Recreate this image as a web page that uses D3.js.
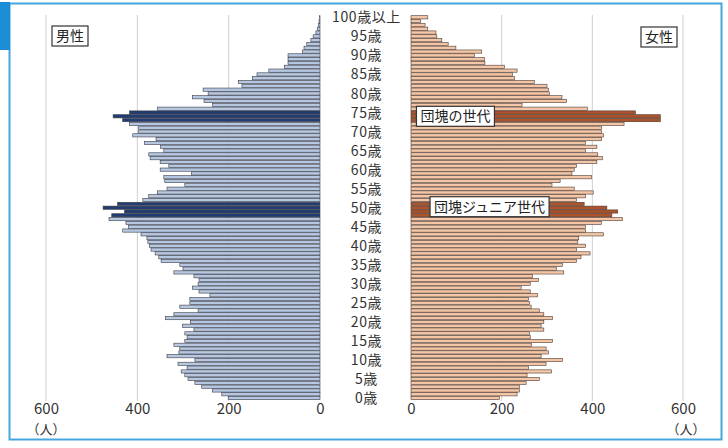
<!DOCTYPE html>
<html>
<head>
<meta charset="utf-8">
<script src="https://cdn.jsdelivr.net/npm/d3@7"></script>
<style>
  body { margin: 0; background: #fff; }
  svg { display: block; font-family: "Noto Sans CJK JP", "Noto Sans", sans-serif; }
</style>
</head>
<body>
<script>
// ages 0..100 (100 = 100歳以上)
var ages = d3.range(0, 101);

// male population by age (人), index = age
var male = [201,215,235,259,274,289,296,304,291,311,
            274,335,309,307,320,296,291,296,276,301,
            284,338,320,267,307,285,285,241,265,279,
            267,265,276,320,300,307,348,353,361,370,
            373,377,379,392,432,419,425,462,456,428,
            475,443,388,375,356,335,296,340,342,281,
            350,331,350,372,375,342,349,384,359,410,
            397,397,417,432,453,417,356,235,254,279,
            245,256,171,179,148,138,112,78,70,70,
            70,38,35,29,20,15,9,6,3,2,
            1.5];

// female population by age (人)
var female = [195,234,239,239,254,283,256,310,259,298,
              334,287,303,298,266,312,263,261,293,287,
              293,312,293,283,265,261,259,279,263,243,
              263,281,268,337,321,334,365,375,395,365,
              385,368,370,425,385,385,420,466,443,456,
              432,382,365,385,402,360,311,329,398,355,
              360,365,410,422,412,385,410,385,420,425,
              420,420,470,550,550,495,389,245,343,333,
              305,303,300,272,228,224,234,206,163,162,
              140,156,99,82,68,57,55,37,31,21,
              37];

// highlighted generations
var dankai = [73, 74, 75];
var dankaiJr = [48, 49, 50, 51];

var ticks = [0, 200, 400, 600];
var gridTicks = [200, 400, 600];
var ageLabels = d3.range(0, 100, 5);

var W = 728, H = 448;

var svg = d3.select("body").append("svg")
  .attr("width", W)
  .attr("height", H);

// frame
svg.append("rect")
  .attr("x", 9.5).attr("y", 3.5)
  .attr("width", 712).attr("height", 436)
  .attr("fill", "#fff")
  .attr("stroke", "#45a6de")
  .attr("stroke-width", 2);
svg.append("rect")
  .attr("x", 0).attr("y", 2)
  .attr("width", 10).attr("height", 48)
  .attr("fill", "#1a8dd6");

// scales
var y = d3.scaleBand()
  .domain(ages.slice().reverse())
  .range([15.4, 400])
  .padding(0);

var xl = d3.scaleLinear().domain([0, 600]).range([320, 46]);
var xr = d3.scaleLinear().domain([0, 600]).range([411, 683]);

// grid lines
svg.append("g").selectAll("line")
  .data(gridTicks)
  .enter().append("line")
  .attr("x1", function(d){ return xl(d); })
  .attr("x2", function(d){ return xl(d); })
  .attr("y1", 15).attr("y2", 401)
  .attr("stroke", "#c2c2c2")
  .attr("stroke-width", 0.8);
svg.append("g").selectAll("line")
  .data(gridTicks)
  .enter().append("line")
  .attr("x1", function(d){ return xr(d); })
  .attr("x2", function(d){ return xr(d); })
  .attr("y1", 15).attr("y2", 401)
  .attr("stroke", "#c2c2c2")
  .attr("stroke-width", 0.8);

// male bars
svg.append("g").selectAll("rect")
  .data(ages)
  .enter().append("rect")
  .attr("x", function(d){ return xl(male[d]); })
  .attr("y", function(d){ return y(d) + 0.3; })
  .attr("width", function(d){ return xl(0) - xl(male[d]); })
  .attr("height", y.bandwidth() - 0.6)
  .attr("fill", function(d){
    return (dankai.indexOf(d) > -1 || dankaiJr.indexOf(d) > -1) ? "#213d72" : "#b6c8e1";
  })
  .attr("stroke", "#3a3a44")
  .attr("stroke-width", 0.6);

// female bars
svg.append("g").selectAll("rect")
  .data(ages)
  .enter().append("rect")
  .attr("x", xr(0))
  .attr("y", function(d){ return y(d) + 0.3; })
  .attr("width", function(d){ return xr(female[d]) - xr(0); })
  .attr("height", y.bandwidth() - 0.6)
  .attr("fill", function(d){
    return (dankai.indexOf(d) > -1 || dankaiJr.indexOf(d) > -1) ? "#ad532b" : "#f4c6a6";
  })
  .attr("stroke", "#4a3a34")
  .attr("stroke-width", 0.6);

// age labels
var mid = (xl(0) + xr(0)) / 2 + 1;
svg.append("g").selectAll("text")
  .data(ageLabels)
  .enter().append("text")
  .attr("x", mid)
  .attr("y", function(d){ return y(d) + y.bandwidth() / 2; })
  .attr("dy", "0.36em")
  .attr("text-anchor", "middle")
  .attr("font-size", 14)
  .attr("letter-spacing", 0.6)
  .attr("fill", "#333")
  .text(function(d){ return d + "歳"; });
svg.append("text")
  .attr("x", mid)
  .attr("y", y(100) + y.bandwidth() / 2)
  .attr("dy", "0.36em")
  .attr("text-anchor", "middle")
  .attr("font-size", 14)
  .attr("letter-spacing", 0.6)
  .attr("fill", "#333")
  .text("100歳以上");

// x axes
var axL = svg.append("g")
  .attr("transform", "translate(0,400)")
  .call(d3.axisBottom(xl).tickValues(ticks).tickSize(0).tickPadding(3));
var axR = svg.append("g")
  .attr("transform", "translate(0,400)")
  .call(d3.axisBottom(xr).tickValues(ticks).tickSize(0).tickPadding(3));
[axL, axR].forEach(function(ax){
  ax.select(".domain").remove();
  ax.selectAll("text")
    .attr("font-size", 15)
    .attr("fill", "#333")
    .style("font-family", "'Noto Sans CJK JP', sans-serif");
});

svg.append("text").attr("x", xl(600)).attr("y", 434)
  .attr("text-anchor", "middle").attr("font-size", 13).attr("fill", "#333").text("（人）");
svg.append("text").attr("x", xr(600) + 3).attr("y", 434)
  .attr("text-anchor", "middle").attr("font-size", 13).attr("fill", "#333").text("（人）");

// labels in boxes
function boxLabel(x, cy, txt, size) {
  var g = svg.append("g");
  var t = g.append("text")
    .attr("x", x + 4)
    .attr("y", cy)
    .attr("dy", "0.36em")
    .attr("font-size", size)
    .attr("fill", "#222")
    .text(txt);
  var bb = t.node().getBBox();
  g.insert("rect", "text")
    .attr("x", bb.x - 4).attr("y", cy - 10)
    .attr("width", bb.width + 8).attr("height", 20)
    .attr("fill", "#fff")
    .attr("stroke", "#333")
    .attr("stroke-width", 1.2);
}
boxLabel(52, 36, "男性", 14);
boxLabel(641, 37, "女性", 14);
boxLabel(xr(12), y(74) + y.bandwidth() / 2, "団塊の世代", 14);
boxLabel(xr(42), y(50) + y.bandwidth() / 2 - 1, "団塊ジュニア世代", 14);
</script>
</body>
</html>
